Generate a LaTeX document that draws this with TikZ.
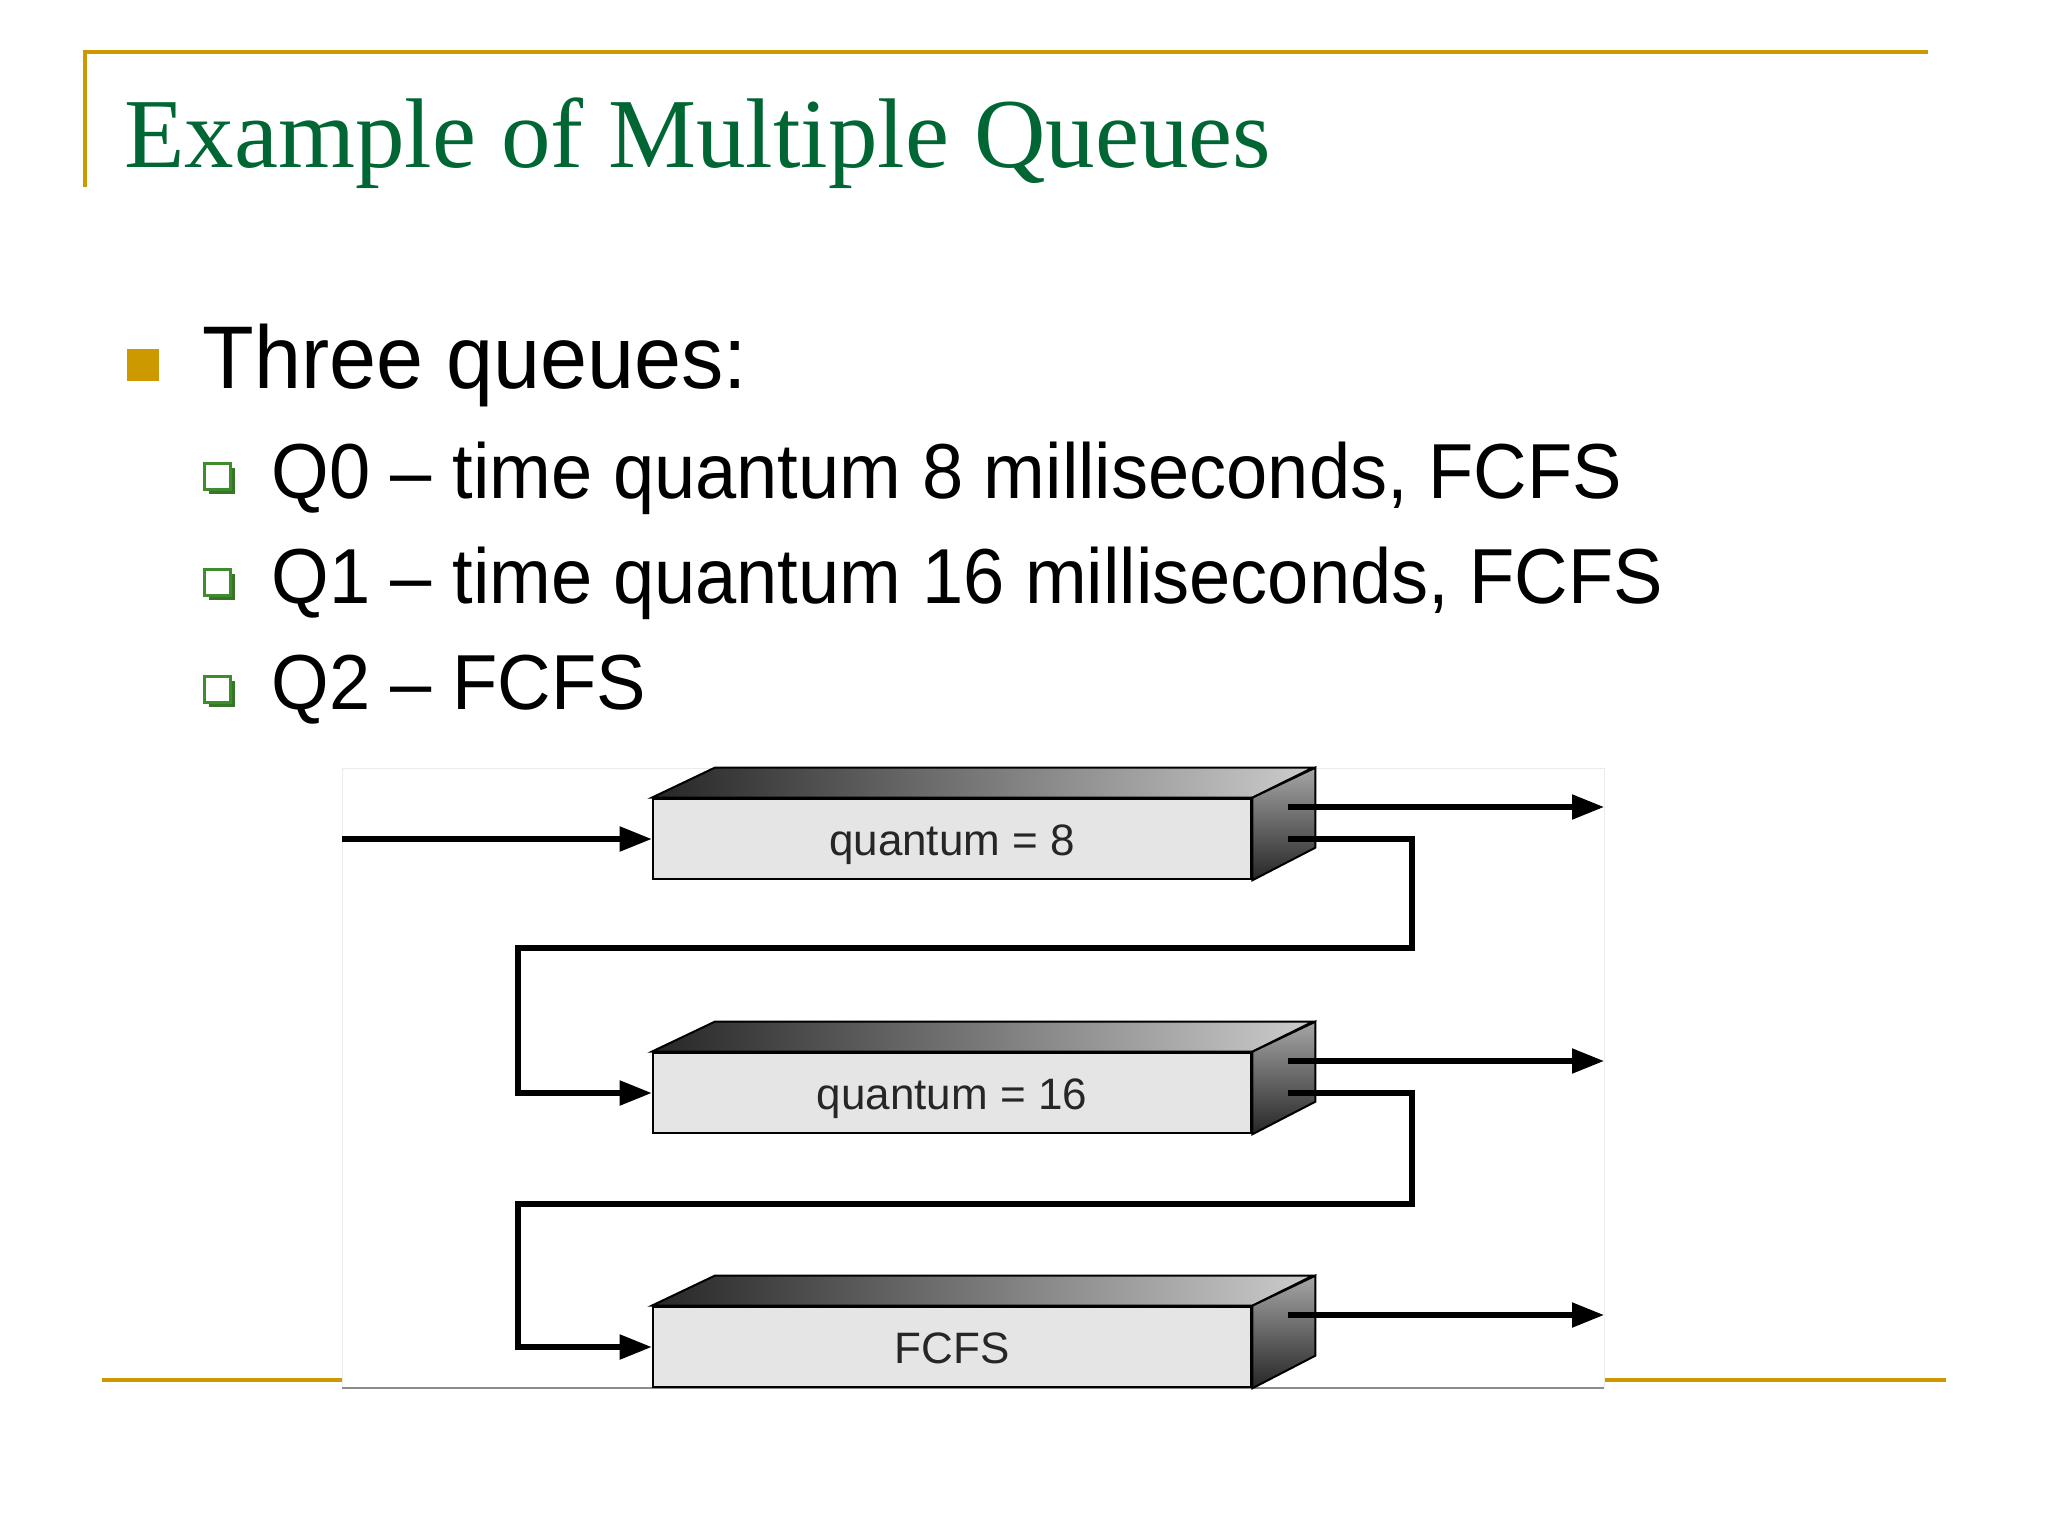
\documentclass[tikz,border=0pt]{standalone}
\usepackage{fontspec}
\setmainfont{Liberation Serif}
\setsansfont{Liberation Sans}
\usetikzlibrary{arrows.meta}

\definecolor{slidegold}{RGB}{204,153,0}
\definecolor{titlegreen}{RGB}{0,102,51}
\definecolor{boxgreen}{RGB}{62,140,45}

\tikzset{
  headtext/.style={anchor=base west, inner sep=0pt, xscale=.95, font=\sffamily\fontsize{44.5}{46}\selectfont},
  subtext/.style={anchor=base west, inner sep=0pt, xscale=.95, font=\sffamily\fontsize{39}{40}\selectfont},
  queue/.style={draw=black, line width=1.3pt, fill=black!10, minimum width=299pt, minimum height=40pt,
    inner sep=0pt, text height=16pt, text depth=0pt, text=black!85, font=\sffamily\fontsize{22}{22}\selectfont},
  topface/.style={draw=black, line width=1pt, left color=black!85, right color=black!20},
  sideface/.style={draw=black, line width=1pt, top color=black!35, bottom color=black!85},
  flow/.style={line width=2.6pt, -{Triangle[length=16pt,width=12pt]}}
}

\begin{document}
\begin{tikzpicture}[x=0.5pt, y=-0.5pt]
  \useasboundingbox (0,0) rectangle (2048,1536);

  % slide frame
  \draw[slidegold, line width=2pt] (85,187) -- (85,52) -- (1928,52);
  \draw[slidegold, line width=2pt] (102,1380) -- (342,1380);
  \draw[slidegold, line width=2pt] (1604,1380) -- (1946,1380);

  \node[anchor=base west, inner sep=0pt, text=titlegreen, font=\fontsize{49.5}{50}\selectfont] (title) at (124,167) {Example of Multiple Queues};

  % bullets
  \fill[slidegold] (127,349) rectangle (159,381);
  \node[headtext] (three) at (202,388) {Three queues:};
  \foreach \y in {479,585,692} {
    \fill[boxgreen!85!black] (209,\y-11) rectangle (235,\y+15);
    \draw[boxgreen, line width=1.5pt, fill=white] (204,\y-16) rectangle (230,\y+10);
  }
  \node[subtext] (qa) at (271,498) {Q0 – time quantum 8 milliseconds, FCFS};
  \node[subtext] (qb) at (271,603) {Q1 – time quantum 16 milliseconds, FCFS};
  \node[subtext] (qc) at (271,709) {Q2 – FCFS};

  % figure
  \fill[white] (342,768) rectangle (1604,1388);
  \draw[black!8] (342,1388) -- (342,768) -- (1604,768) -- (1604,1388);
  \draw[black!45, line width=1pt] (342,1388) -- (1604,1388);

  \node[queue] (q0) at (952,839) {quantum = 8};
  \node[queue] (q1) at (952,1093) {quantum = 16};
  \node[queue] (q2) at (952,1347) {FCFS};

  \foreach \q in {q0,q1,q2} {
    \draw[topface] (\q.north west) -- ++(63,-30) -- ++(598,0) -- (\q.north east) -- cycle;
    \draw[sideface] (\q.north east) -- ++(63,-30) -- ++(0,80) -- (\q.south east) -- cycle;
  }

  \coordinate (entry) at (342,839);
  \coordinate (rim) at (1604,0);
  \path (q0.east) ++(36,-32) coordinate (q0top) ++(0,32) coordinate (q0mid);
  \path (q1.east) ++(36,-32) coordinate (q1top) ++(0,32) coordinate (q1mid);
  \path (q2.east) ++(36,-32) coordinate (q2top);
  \coordinate (turn0) at (1412,948);
  \coordinate (back0) at (518,948);
  \coordinate (turn1) at (1412,1204);
  \coordinate (back1) at (518,1204);

  \draw[flow] (entry) -- (q0.west);
  \draw[flow] (q0top) -- (q0top -| rim);
  \draw[flow] (q1top) -- (q1top -| rim);
  \draw[flow] (q2top) -- (q2top -| rim);
  \draw[flow] (q0mid) -| (turn0) -- (back0) |- (q1.west);
  \draw[flow] (q1mid) -| (turn1) -- (back1) |- (q2.west);
\end{tikzpicture}
\end{document}
